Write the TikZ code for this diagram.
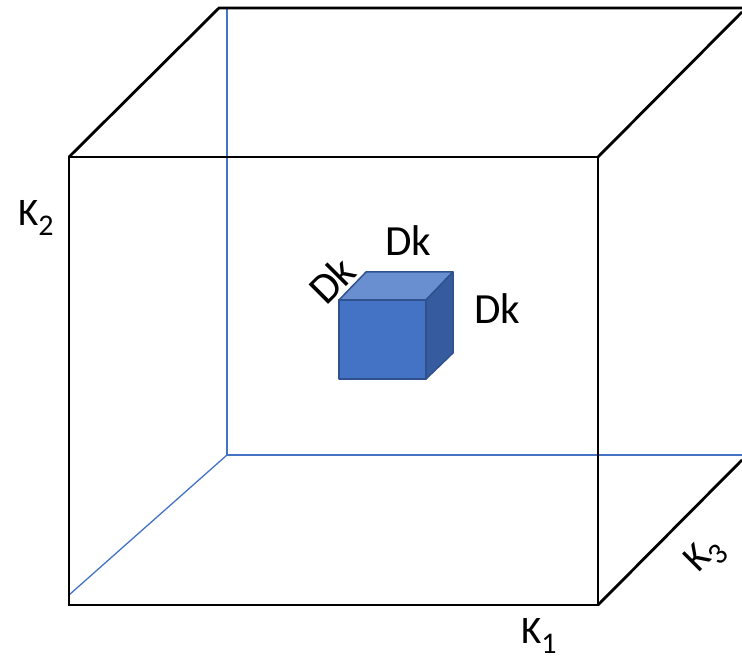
\documentclass[tikz,border=0pt]{standalone}
\usepackage{fontspec}
\setmainfont{Carlito}
\usetikzlibrary{calc}

\definecolor{hiddenblue}{HTML}{4472C4}
\definecolor{cubefront}{HTML}{4472C4}
\definecolor{cubetop}{HTML}{6A8FD0}
\definecolor{cubeside}{HTML}{365C9F}
\definecolor{cubeedge}{HTML}{2F528F}

\newcommand{\lowidx}[1]{\raisebox{-0.24em}{\fontsize{30}{32}\selectfont #1}}

\begin{document}
\begin{tikzpicture}[
    x=1pt, y=1pt,
    frame/.style={draw=black, line width=2.8pt, line join=miter},
    hidden/.style={draw=hiddenblue, line width=1.3pt},
    face/.style={draw=cubeedge, line width=1.5pt, line join=round},
    axislabel/.style={font=\fontsize{39}{44}\selectfont, inner sep=0pt},
    dklabel/.style={font=\fontsize{43}{48}\selectfont, inner sep=0pt},
]
\useasboundingbox (0,0) rectangle (742,660);

% --- Corners of the big box ---
\coordinate (fbl) at (69,55);
\coordinate (fbr) at (598,55);
\coordinate (ftr) at (598,503);
\coordinate (ftl) at (69,503);
\coordinate (btl) at (219,652);
\coordinate (btr) at (742,652);
\coordinate (bru) at (742,648);
\coordinate (brd) at (742,200);

% --- Hidden edges (back) ---
\coordinate (hbl) at (227,205);
\draw[hidden] (227,652) -- (hbl) -- (742,205);
\draw[hidden] (hbl) -- (69,65);

% --- Visible edges ---
\draw[frame] (fbl) -- (fbr) -- (ftr) -- (ftl) -- cycle;
\draw[frame] (ftl) -- (btl) -- (btr);
\draw[frame] (ftr) -- (bru);
\draw[frame] (fbr) -- (brd);

% --- Small cube ---
\coordinate (c1) at (339,281);
\coordinate (c2) at (426,281);
\coordinate (c3) at (426,360);
\coordinate (c4) at (339,360);
\coordinate (c5) at (366,388);
\coordinate (c6) at (453,388);
\coordinate (c7) at (453,307);
\draw[face, fill=cubefront] (c1) -- (c2) -- (c3) -- (c4) -- cycle;
\draw[face, fill=cubetop] (c4) -- (c5) -- (c6) -- (c3) -- cycle;
\draw[face, fill=cubeside] (c2) -- (c3) -- (c6) -- (c7) -- cycle;

% --- Labels ---
\node[axislabel, anchor=base west] (k2) at (18,434) {K\lowidx{2}};
\node[axislabel, anchor=base west] (k1) at (521,16) {K\lowidx{1}};
\node[axislabel, anchor=base west, rotate=45] (k3) at (698,86) {K\lowidx{3}};
\node[dklabel] (dktop) at (408,419) {Dk};
\node[dklabel] (dkside) at (497,351) {Dk};
\node[dklabel, rotate=45] (dkdepth) at (332,380) {Dk};

\end{tikzpicture}
\end{document}
